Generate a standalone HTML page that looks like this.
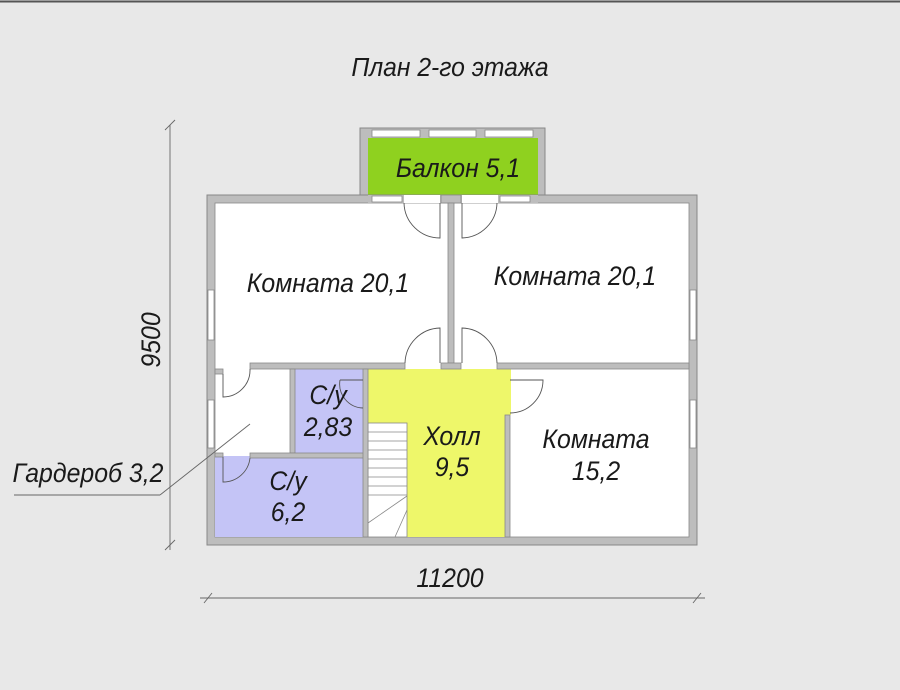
<!DOCTYPE html>
<html><head><meta charset="utf-8"><style>
html,body{margin:0;padding:0;background:#e8e8e8}
svg{display:block}
text{font-family:"Liberation Sans",sans-serif;font-style:italic;fill:#1a1a1a}
</style></head><body>
<svg width="900" height="690" viewBox="0 0 900 690" xmlns="http://www.w3.org/2000/svg">
<rect x="0" y="0" width="900" height="690" fill="#e8e8e8"/>
<line x1="0" y1="1.5" x2="900" y2="1.5" stroke="#555" stroke-width="2"/>

<!-- title -->
<text x="450" y="76" font-size="26" text-anchor="middle" transform="translate(450 0) scale(0.95 1) translate(-450 0)">План 2-го этажа</text>

<!-- balcony -->
<rect x="360" y="128" width="185" height="75" fill="#bdbdbd" stroke="#888" stroke-width="1"/>
<rect x="368" y="138" width="170" height="57" fill="#8fd11f"/>
<rect x="372" y="130" width="48" height="7" fill="#fff" stroke="#888" stroke-width="0.8"/>
<rect x="429" y="130" width="47" height="7" fill="#fff" stroke="#888" stroke-width="0.8"/>
<rect x="485" y="130" width="48" height="7" fill="#fff" stroke="#888" stroke-width="0.8"/>

<!-- house outer walls -->
<rect x="207" y="195" width="490" height="350" fill="#bdbdbd" stroke="#888" stroke-width="1"/>
<rect x="215" y="203" width="474" height="334" fill="#fff" stroke="#888" stroke-width="0.8"/>
<rect x="368" y="195" width="170" height="8" fill="#bdbdbd"/>
<rect x="372" y="196" width="30" height="6" fill="#fff" stroke="#888" stroke-width="0.8"/>
<rect x="500" y="196" width="30" height="6" fill="#fff" stroke="#888" stroke-width="0.8"/>
<rect x="404" y="195" width="36" height="8" fill="#fff"/>
<rect x="462" y="195" width="36" height="8" fill="#fff"/>

<!-- side windows -->
<rect x="208" y="290" width="6" height="50" fill="#fff" stroke="#888" stroke-width="0.8"/>
<rect x="208" y="400" width="6" height="48" fill="#fff" stroke="#888" stroke-width="0.8"/>
<rect x="690" y="290" width="6" height="50" fill="#fff" stroke="#888" stroke-width="0.8"/>
<rect x="690" y="400" width="6" height="48" fill="#fff" stroke="#888" stroke-width="0.8"/>

<!-- colored rooms -->
<rect x="295" y="369" width="68" height="84" fill="#c4c4f6"/>
<rect x="215" y="456" width="148" height="81" fill="#c4c4f6"/>
<rect x="368" y="369" width="137" height="168" fill="#eef76a"/>
<rect x="505" y="369" width="6" height="46" fill="#eef76a"/>
<!-- stairs -->
<rect x="368" y="423" width="39" height="114" fill="#fff" stroke="#888" stroke-width="0.8"/>
<g stroke="#888" stroke-width="0.8">
<line x1="368" y1="432" x2="407" y2="432"/><line x1="368" y1="441" x2="407" y2="441"/>
<line x1="368" y1="450" x2="407" y2="450"/><line x1="368" y1="459" x2="407" y2="459"/>
<line x1="368" y1="468" x2="407" y2="468"/><line x1="368" y1="477" x2="407" y2="477"/>
<line x1="368" y1="486" x2="407" y2="486"/><line x1="368" y1="495" x2="407" y2="495"/>
<line x1="368" y1="523" x2="407" y2="496"/><line x1="395" y1="537" x2="407" y2="510"/>
</g>

<!-- interior walls -->
<g fill="#bdbdbd" stroke="#888" stroke-width="0.8">
<rect x="441" y="195" width="20" height="8"/>
<rect x="448" y="203" width="6" height="160"/>
<rect x="441" y="363" width="20" height="6"/>
<rect x="250" y="363" width="155" height="6"/>
<rect x="497" y="363" width="192" height="6"/>
<rect x="215" y="369" width="8" height="5"/>
<rect x="290" y="369" width="5" height="84"/>
<rect x="250" y="453" width="115" height="5"/>
<rect x="215" y="453" width="8" height="4"/>
<rect x="363" y="369" width="5" height="168"/>
<rect x="505" y="415" width="5" height="122"/>
</g>

<!-- doors -->
<g fill="none" stroke="#555" stroke-width="0.9">
<path d="M440 203 L440 238 A36 36 0 0 1 404 203"/>
<path d="M462 203 L462 238 A36 36 0 0 0 497 203"/>
<path d="M440 363 L440 328 A36 36 0 0 0 405 363"/>
<path d="M462 363 L462 328 A36 36 0 0 1 497 363"/>
<path d="M510 380 L543 380 A33 33 0 0 1 510 413"/>
<path d="M223 374 L223 397 A27 27 0 0 0 250 369"/>
<path d="M223 457 L223 482 A27 27 0 0 0 250 458"/>
<path d="M340 380 L363 380 M340 380 A24 24 0 0 0 363 408"/>
</g>

<!-- dimension lines -->
<g stroke="#666" stroke-width="0.9" fill="none">
<line x1="170" y1="125" x2="170" y2="550"/>
<line x1="165" y1="130" x2="175" y2="120"/>
<line x1="165" y1="550" x2="175" y2="540"/>
<line x1="200" y1="598" x2="705" y2="598"/>
<line x1="204" y1="603" x2="212" y2="593"/>
<line x1="693" y1="603" x2="701" y2="593"/>
<line x1="14" y1="495" x2="160" y2="495"/>
<line x1="160" y1="495" x2="250" y2="424"/>
</g>

<!-- labels -->
<g font-size="27">
<text x="458" y="177" text-anchor="middle" transform="translate(458 0) scale(0.92 1) translate(-458 0)">Балкон 5,1</text>
<text x="328" y="292" text-anchor="middle" transform="translate(328 0) scale(0.92 1) translate(-328 0)">Комната 20,1</text>
<text x="575" y="285" text-anchor="middle" transform="translate(575 0) scale(0.92 1) translate(-575 0)">Комната 20,1</text>
<text x="596" y="448" text-anchor="middle" transform="translate(596 0) scale(0.92 1) translate(-596 0)">Комната</text>
<text x="596" y="480" text-anchor="middle" transform="translate(596 0) scale(0.92 1) translate(-596 0)">15,2</text>
<text x="452" y="445" text-anchor="middle" transform="translate(452 0) scale(0.92 1) translate(-452 0)">Холл</text>
<text x="452" y="476" text-anchor="middle" transform="translate(452 0) scale(0.92 1) translate(-452 0)">9,5</text>
<text x="328" y="404" text-anchor="middle" transform="translate(328 0) scale(0.92 1) translate(-328 0)">С/у</text>
<text x="328" y="436" text-anchor="middle" transform="translate(328 0) scale(0.92 1) translate(-328 0)">2,83</text>
<text x="288" y="490" text-anchor="middle" transform="translate(288 0) scale(0.92 1) translate(-288 0)">С/у</text>
<text x="288" y="521" text-anchor="middle" transform="translate(288 0) scale(0.92 1) translate(-288 0)">6,2</text>
<text x="88" y="482" text-anchor="middle" transform="translate(88 0) scale(0.92 1) translate(-88 0)">Гардероб 3,2</text>
<text x="450" y="587" text-anchor="middle" transform="translate(450 0) scale(0.92 1) translate(-450 0)">11200</text>
<text x="0" y="0" text-anchor="middle" transform="translate(160 340) rotate(-90) scale(0.92 1)">9500</text>
</g>
</svg>
</body></html>
